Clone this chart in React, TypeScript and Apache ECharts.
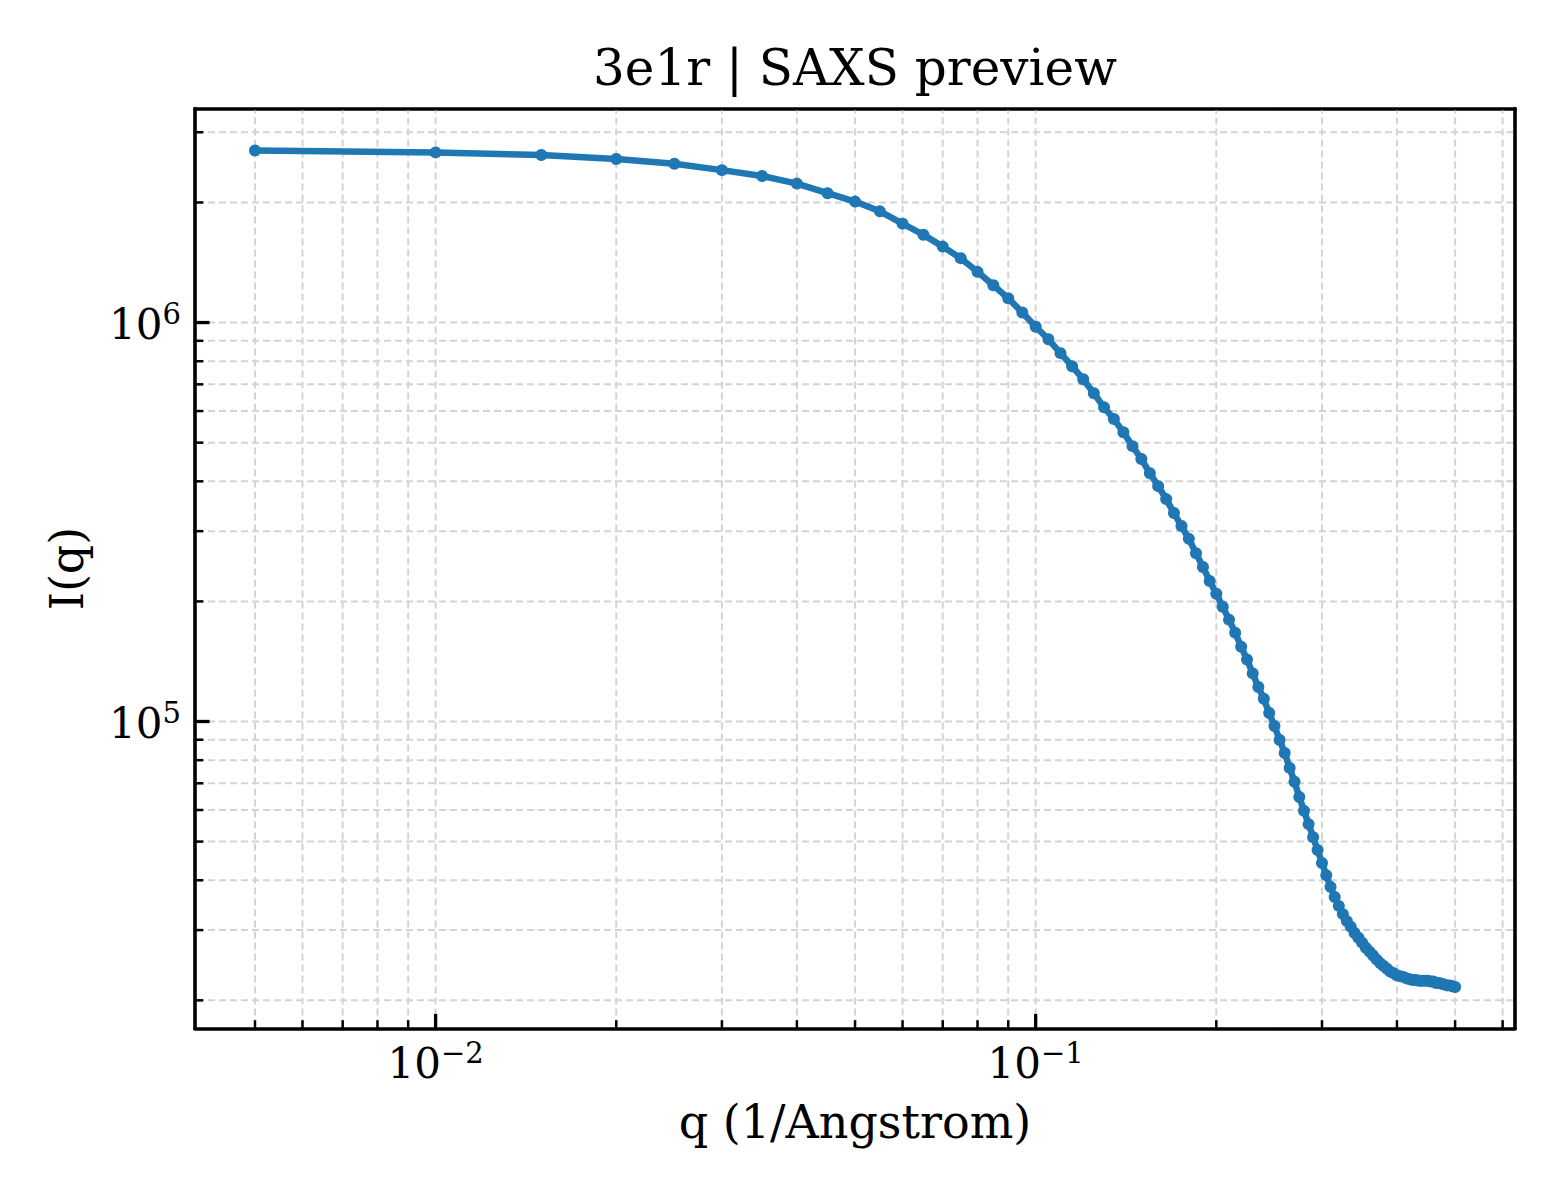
import React, { useEffect, useRef } from "react";
import * as echarts from "echarts";

// scattering vector q (1/Angstrom)
const Q = [
  0.005, 0.01, 0.015, 0.02, 0.025, 0.03, 0.035, 0.04, 0.045, 0.05,
  0.055, 0.06, 0.065, 0.07, 0.075, 0.08, 0.085, 0.09, 0.095, 0.1,
  0.105, 0.11, 0.115, 0.12, 0.125, 0.13, 0.135, 0.14, 0.145, 0.15,
  0.155, 0.16, 0.165, 0.17, 0.175, 0.18, 0.185, 0.19, 0.195, 0.2,
  0.205, 0.21, 0.215, 0.22, 0.225, 0.23, 0.235, 0.24, 0.245, 0.25,
  0.255, 0.26, 0.265, 0.27, 0.275, 0.28, 0.285, 0.29, 0.295, 0.3,
  0.305, 0.31, 0.315, 0.32, 0.325, 0.33, 0.335, 0.34, 0.345, 0.35,
  0.355, 0.36, 0.365, 0.37, 0.375, 0.38, 0.385, 0.39, 0.395, 0.4,
  0.405, 0.41, 0.415, 0.42, 0.425, 0.43, 0.435, 0.44, 0.445, 0.45,
  0.455, 0.46, 0.465, 0.47, 0.475, 0.48, 0.485, 0.49, 0.495, 0.5,
];

// I(q)
const INTENSITY = [
  2.70e6, 2.67e6, 2.63e6, 2.57e6, 2.50e6, 2.41e6, 2.33e6, 2.23e6, 2.11e6, 2.01e6,
  1.90e6, 1.77e6, 1.66e6, 1.55e6, 1.45e6, 1.34e6, 1.24e6, 1.15e6, 1.06e6, 9.76e5,
  9.08e5, 8.38e5, 7.77e5, 7.21e5, 6.65e5, 6.13e5, 5.73e5, 5.31e5, 4.90e5, 4.55e5,
  4.19e5, 3.89e5, 3.61e5, 3.33e5, 3.09e5, 2.87e5, 2.64e5, 2.44e5, 2.25e5, 2.09e5,
  1.94e5, 1.80e5, 1.67e5, 1.54e5, 1.43e5, 1.32e5, 1.22e5, 1.14e5, 1.05e5, 9.74e4,
  8.99e4, 8.34e4, 7.65e4, 7.06e4, 6.47e4, 5.97e4, 5.53e4, 5.13e4, 4.76e4, 4.42e4,
  4.12e4, 3.85e4, 3.63e4, 3.45e4, 3.29e4, 3.16e4, 3.06e4, 2.95e4, 2.87e4, 2.79e4,
  2.71e4, 2.65e4, 2.59e4, 2.53e4, 2.48e4, 2.44e4, 2.40e4, 2.36e4, 2.34e4, 2.31e4,
  2.30e4, 2.29e4, 2.27e4, 2.26e4, 2.25e4, 2.25e4, 2.24e4, 2.24e4, 2.24e4, 2.24e4,
  2.23e4, 2.23e4, 2.21e4, 2.21e4, 2.20e4, 2.19e4, 2.18e4, 2.18e4, 2.17e4, 2.16e4,
];

// tick values
const X_MAJOR = [0.01, 0.1];
const X_MINOR = [
  0.005, 0.006, 0.007, 0.008, 0.009,
  0.02, 0.03, 0.04, 0.05, 0.06, 0.07, 0.08, 0.09,
  0.2, 0.3, 0.4, 0.5, 0.6,
];
const Y_MAJOR = [1e5, 1e6];
const Y_MINOR = [
  2e4, 3e4, 4e4, 5e4, 6e4, 7e4, 8e4, 9e4,
  2e5, 3e5, 4e5, 5e5, 6e5, 7e5, 8e5, 9e5,
  2e6, 3e6,
];

const X_MIN = 0.003972;
const X_MAX = 0.6292;
const Y_MIN = 1.70e4;
const Y_MAX = 3.44e6;

const FONT = "'DejaVu Serif', serif";
const BLUE = "#1f77b4";
const GRID_COLOR = "#d4d4d4";

function powerLabel(v: number) {
  const e = Math.log10(v);
  const n = Math.round(e);
  if (Math.abs(e - n) > 1e-6) return "";
  const exp = n < 0 ? "\u2212" + Math.abs(n) : String(n);
  return `{b|10}{s|${exp}}`;
}

const labelRich = {
  b: { fontFamily: FONT, fontSize: 42, lineHeight: 46, verticalAlign: "bottom", color: "#000" },
  s: { fontFamily: FONT, fontSize: 29, lineHeight: 26, verticalAlign: "top", color: "#000" },
};

// grid lines + inward ticks, matplotlib style
function tickSeries(values: number[], dim: "x" | "y", len: number, width: number) {
  return {
    type: "custom",
    z: 1,
    silent: true,
    data: values.map((v) => (dim === "x" ? [v, Y_MIN] : [X_MIN, v])),
    renderItem: (params: any, api: any) => {
      const cs = params.coordSys;
      const p = api.coord([api.value(0), api.value(1)]);
      const inset = 2;
      const grid = { stroke: GRID_COLOR, lineWidth: 2, lineDash: [7, 4] };
      const tick = { stroke: "#000", lineWidth: width };
      if (dim === "x") {
        const x = p[0];
        const bottom = cs.y + cs.height;
        return {
          type: "group",
          children: [
            { type: "line", shape: { x1: x, y1: bottom - inset, x2: x, y2: cs.y + inset }, style: grid },
            { type: "line", shape: { x1: x, y1: bottom, x2: x, y2: bottom - len }, style: tick },
          ],
        };
      }
      const y = p[1];
      return {
        type: "group",
        children: [
          { type: "line", shape: { x1: cs.x + inset, y1: y, x2: cs.x + cs.width - inset, y2: y }, style: grid },
          { type: "line", shape: { x1: cs.x, y1: y, x2: cs.x + len, y2: y }, style: tick },
        ],
      };
    },
  };
}

const spine = { show: true, lineStyle: { color: "#000", width: 3.6 } };

const App: React.FC = () => {
  const ref = useRef<HTMLDivElement | null>(null);

  useEffect(() => {
    if (!ref.current) return;
    const inst = echarts.init(ref.current, undefined, { renderer: "svg" });

    inst.setOption({
      animation: false,
      backgroundColor: "#fff",
      textStyle: { fontFamily: FONT, color: "#000" },
      title: {
        text: "3e1r | SAXS preview",
        left: 855,
        textAlign: "center",
        top: 43,
        padding: 0,
        textStyle: { fontFamily: FONT, fontSize: 50, fontWeight: "normal", color: "#000" },
      },
      grid: { left: 195, right: 45, top: 108.5, bottom: 171.5 },
      xAxis: [
        {
          type: "log",
          logBase: 10,
          min: X_MIN,
          max: X_MAX,
          position: "bottom",
          name: "q (1/Angstrom)",
          nameLocation: "middle",
          nameGap: 70,
          nameTextStyle: { fontFamily: FONT, fontSize: 46, color: "#000" },
          axisLine: spine,
          axisTick: { show: false },
          splitLine: { show: false },
          axisLabel: {
            show: true,
            margin: 10,
            formatter: powerLabel,
            rich: labelRich,
            showMinLabel: false,
            showMaxLabel: false,
          },
        },
        {
          type: "log",
          logBase: 10,
          min: X_MIN,
          max: X_MAX,
          position: "top",
          axisLine: spine,
          axisTick: { show: false },
          axisLabel: { show: false },
          splitLine: { show: false },
        },
      ],
      yAxis: [
        {
          type: "log",
          logBase: 10,
          min: Y_MIN,
          max: Y_MAX,
          position: "left",
          name: "I(q)",
          nameLocation: "middle",
          nameGap: 105,
          nameTextStyle: { fontFamily: FONT, fontSize: 46, color: "#000" },
          axisLine: spine,
          axisTick: { show: false },
          splitLine: { show: false },
          axisLabel: {
            show: true,
            margin: 14,
            formatter: powerLabel,
            rich: labelRich,
            showMinLabel: false,
            showMaxLabel: false,
          },
        },
        {
          type: "log",
          logBase: 10,
          min: Y_MIN,
          max: Y_MAX,
          position: "right",
          axisLine: spine,
          axisTick: { show: false },
          axisLabel: { show: false },
          splitLine: { show: false },
        },
      ],
      series: [
        tickSeries(X_MINOR, "x", 8.3, 2.5),
        tickSeries(X_MAJOR, "x", 14.6, 3.3),
        tickSeries(Y_MINOR, "y", 8.3, 2.5),
        tickSeries(Y_MAJOR, "y", 14.6, 3.3),
        {
          type: "line",
          z: 3,
          data: Q.map((q, i) => [q, INTENSITY[i]]),
          showSymbol: true,
          symbol: "circle",
          symbolSize: 12,
          lineStyle: { color: BLUE, width: 6.5 },
          itemStyle: { color: BLUE },
          emphasis: { disabled: true },
        },
      ],
    });

    return () => inst.dispose();
  }, []);

  return (
    <div
      ref={ref}
      style={{ position: "absolute", left: 0, top: 0, width: 1560, height: 1200 }}
    />
  );
};

export default App;
